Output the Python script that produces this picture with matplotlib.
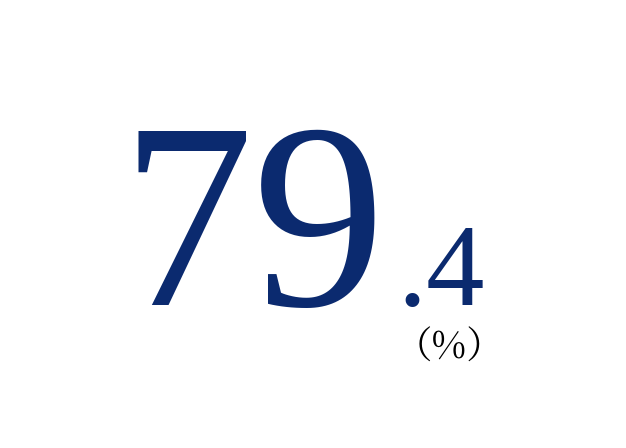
import matplotlib
matplotlib.use('Agg')
import matplotlib.pyplot as plt

# the figure shown
whole_part = '79'
decimal_part = '.4'
unit = '（%）'

navy = '#0b2a6f'
W, H = 626, 448

fig = plt.figure(figsize=(W / 100, H / 100), dpi=100)
fig.patch.set_facecolor('white')

def px(x, y):
    # pixel coords (from top-left) to figure fraction
    return x / W, 1 - y / H

fig.text(*px(120, 305), whole_part, fontsize=191, color=navy,
         family='Liberation Serif', ha='left', va='baseline')
fig.text(*px(397, 305), decimal_part, fontsize=84, color=navy,
         family='Liberation Serif', ha='left', va='baseline')
fig.text(*px(449, 359), unit, fontsize=27, color='black',
         family=['Noto Serif CJK JP', 'Liberation Serif', 'Noto Sans CJK JP'],
         ha='center', va='baseline')

fig.savefig('out.png', dpi=100, facecolor='white')
